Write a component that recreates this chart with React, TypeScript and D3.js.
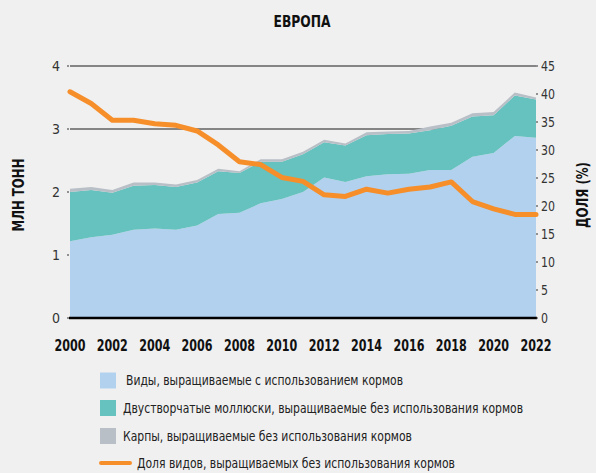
import React from "react";
import * as d3 from "d3";

const years = d3.range(2000, 2023);
const feedSpecies = [1.22, 1.28, 1.32, 1.40, 1.42, 1.40, 1.47, 1.65, 1.67, 1.82, 1.89, 2.0, 2.23, 2.16, 2.25, 2.28, 2.29, 2.35, 2.35, 2.56, 2.62, 2.89, 2.86];
const bivalves = [0.78, 0.75, 0.67, 0.70, 0.69, 0.68, 0.68, 0.68, 0.63, 0.66, 0.59, 0.60, 0.56, 0.58, 0.65, 0.64, 0.64, 0.63, 0.70, 0.64, 0.60, 0.64, 0.61];
const carps = [0.05, 0.05, 0.04, 0.05, 0.04, 0.04, 0.04, 0.04, 0.03, 0.04, 0.04, 0.04, 0.04, 0.03, 0.05, 0.04, 0.04, 0.06, 0.05, 0.05, 0.05, 0.05, 0.03];
const sharePct = [40.4, 38.3, 35.3, 35.3, 34.7, 34.4, 33.4, 30.9, 27.9, 27.4, 25.1, 24.4, 22.0, 21.7, 23.0, 22.3, 23.0, 23.4, 24.3, 20.8, 19.5, 18.5, 18.5];
const leftTicks = [0, 1, 2, 3, 4];
const rightTicks = [0, 5, 10, 15, 20, 25, 30, 35, 40, 45];
const xTicks = d3.range(2000, 2023, 2);
const gridTicks = [3, 4];
const seriesKeys = ["feed", "bivalves", "carps"];
const seriesColors = ["#b2d1ee", "#66c2be", "#b9bfc6"];
const legendLabels = [
  "Виды, выращиваемые с использованием кормов",
  "Двустворчатые моллюски, выращиваемые без использования кормов",
  "Карпы, выращиваемые без использования кормов",
  "Доля видов, выращиваемых без использования кормов",
];
const lineColor = "#f68e2a";
const FONT = "'Liberation Sans Narrow', 'DejaVu Sans Condensed', 'Roboto', sans-serif";

export default function App() {
  const W = 596, H = 473;
  const x = d3.scaleLinear().domain([2000, 2022]).range([70, 536]);
  const yL = d3.scaleLinear().domain([0, 4]).range([318, 66]);
  const yR = d3.scaleLinear().domain([0, 45]).range([318, 66]);

  const table = years.map((yr, i) => ({ year: yr, feed: feedSpecies[i], bivalves: bivalves[i], carps: carps[i] }));
  const stacked = d3.stack<any>().keys(seriesKeys)(table);
  const area = d3.area<any>().x((d) => x(d.data.year)).y0((d) => yL(d[0])).y1((d) => yL(d[1]));
  const line = d3.line<number>().x((_, i) => x(years[i])).y((d) => yR(d));

  const legendRows = [380.5, 408, 436, 463];
  const legendText = [
    { x: 126, w: 277 },
    { x: 123, w: 400 },
    { x: 123, w: 289 },
    { x: 137, w: 318 },
  ];

  return (
    <div style={{ position: "fixed", left: 0, top: 0, width: W, height: H, background: "#f0f0f0", overflow: "hidden" }}>
      <svg width={W} height={H} style={{ display: "block", fontFamily: FONT }}>
        <rect width={W} height={H} fill="#f0f0f0" />
        <text x={302} y={27} textAnchor="middle" fontWeight="bold" fontSize={16} fill="#111" textLength={57} lengthAdjust="spacingAndGlyphs">ЕВРОПА</text>

        {gridTicks.map((t) => (
          <line key={t} x1={x(2000)} x2={x(2022)} y1={yL(t)} y2={yL(t)} stroke="#1a1a1a" strokeWidth={1.2} />
        ))}

        {stacked.map((s, i) => (
          <path key={s.key} d={area(s) || ""} fill={seriesColors[i]} />
        ))}

        <line x1={x(2000) - 1} x2={x(2022) + 1} y1={yL(0)} y2={yL(0)} stroke="#000" strokeWidth={2.5} />

        {leftTicks.map((t) => (
          <g key={t}>
            <line x1={x(2000) - 3} x2={x(2000) - 1} y1={yL(t)} y2={yL(t)} stroke="#333" strokeWidth={1} />
            <text x={60} y={yL(t)} dy="0.35em" textAnchor="end" fontSize={14} fill="#333">{t}</text>
          </g>
        ))}
        {rightTicks.map((t) => (
          <g key={t}>
            <line x1={x(2022)} x2={x(2022) + 2} y1={yR(t)} y2={yR(t)} stroke="#333" strokeWidth={1} />
            <text x={541} y={yR(t)} dy="0.35em" textAnchor="start" fontSize={14} fill="#333" textLength={t >= 10 ? 14 : 7} lengthAdjust="spacingAndGlyphs">{t}</text>
          </g>
        ))}
        {xTicks.map((t) => (
          <text key={t} x={x(t)} y={351} textAnchor="middle" fontSize={15} fontWeight="bold" fill="#111" textLength={31} lengthAdjust="spacingAndGlyphs">{t}</text>
        ))}

        <path d={line(sharePct) || ""} fill="none" stroke={lineColor} strokeWidth={5} strokeLinejoin="round" strokeLinecap="round" />

        <text transform="translate(24,195) rotate(-90)" textAnchor="middle" fontWeight="bold" fontSize={16} fill="#111" textLength={73} lengthAdjust="spacingAndGlyphs">МЛН ТОНН</text>
        <text transform="translate(588,195) rotate(-90)" textAnchor="middle" fontWeight="bold" fontSize={16} fill="#111" textLength={66} lengthAdjust="spacingAndGlyphs">ДОЛЯ (%)</text>

        {legendRows.map((cy, i) => (
          <g key={i}>
            {i < 3 ? (
              <rect x={100} y={cy - 8} width={16} height={16} fill={seriesColors[i]} />
            ) : (
              <line x1={101} x2={130} y1={cy} y2={cy} stroke={lineColor} strokeWidth={4} strokeLinecap="round" />
            )}
            <text x={legendText[i].x} y={cy} dy="0.35em" fontSize={14} fill="#222" textLength={legendText[i].w} lengthAdjust="spacingAndGlyphs">{legendLabels[i]}</text>
          </g>
        ))}
      </svg>
    </div>
  );
}
